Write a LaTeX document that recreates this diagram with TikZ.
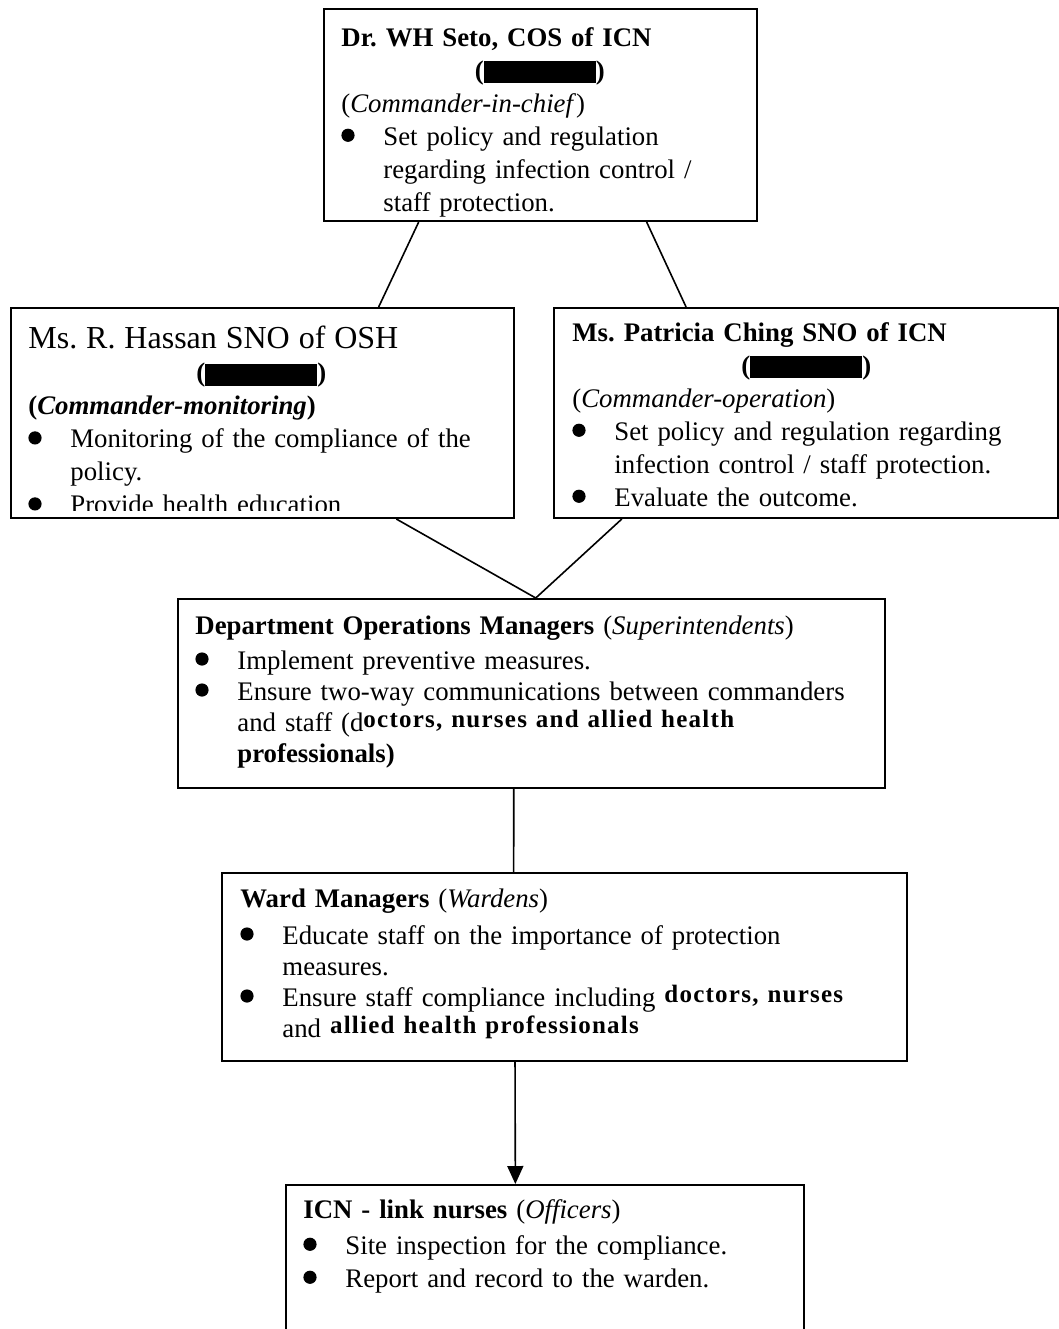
\documentclass[tikz,border=0pt]{standalone}
\usepackage{fontspec}
\setmainfont{Liberation Serif}
\usetikzlibrary{calc,arrows.meta}
\newcommand{\itm}{\par\hangindent=21pt\hangafter=1\noindent\makebox[21pt][l]{\tikz[baseline=0pt]\fill (3.3pt,5pt) circle (3.3pt);}}
\newcommand{\blot}[1]{\textbf{(}\rule[-2pt]{#1}{11pt}\textbf{)}}
\newcommand{\bsm}[1]{\raisebox{2pt}{\fontsize{12.5}{16}\selectfont\bfseries\addfontfeature{LetterSpace=5}#1}}
\tikzset{
  box/.style={draw,line width=1pt,anchor=north west,inner sep=0pt},
  txt/.style={anchor=north west,inner sep=0pt,align=left,font=\fontsize{13.4}{16.5}\selectfont\frenchspacing},
  ln/.style={line width=0.8pt},
  ar/.style={line width=0.8pt,-{Triangle[length=9pt,width=8pt]}}
}
\begin{document}
\begin{tikzpicture}[x=0.5pt,y=-0.5pt]
\useasboundingbox (0,0) rectangle (1059,1329);
% boxes
\node[box,minimum width=216.5pt,minimum height=106pt] (chief) at (323,8) {};
\node[box,minimum width=251.5pt,minimum height=105pt] (osh) at (10,307) {};
\node[box,minimum width=252pt,minimum height=105pt] (ops) at (553,307) {};
\node[box,minimum width=353.5pt,minimum height=94.5pt] (dom) at (177,598) {};
\node[box,minimum width=342.5pt,minimum height=94pt] (ward) at (221,872) {};
\node[box,minimum width=259pt,minimum height=80pt] (link) at (285,1184) {};

% texts
\node[txt,text width=198.5pt] (chief-t) at ([shift={(9pt,-9.5pt)}]chief.north west) {%
\textbf{Dr. WH Seto, COS of ICN}\par
\makebox[\linewidth]{\blot{56pt}}\par
(\textit{Commander-in-chief})
\itm Set policy and regulation\newline regarding infection control /\newline staff protection.\par};

\begin{scope}
\clip ([yshift=4.5pt]osh.south west) rectangle (osh.north east);
\node[txt,text width=233pt] (osh-t) at ([shift={(9pt,-9.5pt)}]osh.north west) {%
{\fontsize{16}{16.5}\selectfont Ms. R. Hassan SNO of OSH}\par
\makebox[\linewidth]{\blot{56pt}}\par
\textbf{(\textit{Commander-monitoring})}
\itm Monitoring of the compliance of the\newline policy.
\itm Provide health education\par};
\end{scope}

\node[txt,text width=234pt] (ops-t) at ([shift={(9.5pt,-7.5pt)}]ops.north west) {%
\textbf{Ms. Patricia Ching SNO of ICN}\par
\makebox[\linewidth]{\blot{56pt}}\par
(\textit{Commander-operation})
\itm Set policy and regulation regarding\newline infection control / staff protection.
\itm Evaluate the outcome.\par};

\node[txt,text width=335pt,font=\fontsize{13.4}{15.5}\selectfont] (dom-t) at ([shift={(9pt,-8.5pt)}]dom.north west) {%
\textbf{Department Operations Managers} (\textit{Superintendents})\par\vspace{2pt}
\itm Implement preventive measures.
\itm Ensure two-way communications between commanders\newline and staff (d\bsm{octors, nurses and allied health}\newline \textbf{professionals)}\par};

\node[txt,text width=324pt,font=\fontsize{13.4}{15.5}\selectfont] (ward-t) at ([shift={(9.5pt,-8pt)}]ward.north west) {%
\textbf{Ward Managers} (\textit{Wardens})\par\vspace{3pt}
\itm Educate staff on the importance of protection\newline measures.
\itm Ensure staff compliance including \bsm{doctors, nurses}\newline and \bsm{allied health professionals}\par};

\node[txt,text width=240pt] (link-t) at ([shift={(9pt,-7.5pt)}]link.north west) {%
\textbf{ICN - link nurses} (\textit{Officers})\par\vspace{1.5pt}
\itm Site inspection for the compliance.
\itm Report and record to the warden.\par};

% connectors
\coordinate (meet) at ($(dom.north west)!.506!(dom.north east)$);
\draw[ln] ($(chief.south west)!.22!(chief.south east)$) -- ($(osh.north west)!.73!(osh.north east)$);
\draw[ln] ($(chief.south west)!.744!(chief.south east)$) -- ($(ops.north west)!.263!(ops.north east)$);
\draw[ln] ($(osh.south west)!.765!(osh.south east)$) -- (meet);
\draw[ln] ($(ops.south west)!.136!(ops.south east)$) -- (meet);
\draw[ln] ($(dom.south west)!.475!(dom.south east)$) -- ($(ward.north west)!.426!(ward.north east)$);
\draw[ar] ($(ward.south west)!.428!(ward.south east)$) -- ($(link.north west)!.443!(link.north east)$);
\end{tikzpicture}
\end{document}
